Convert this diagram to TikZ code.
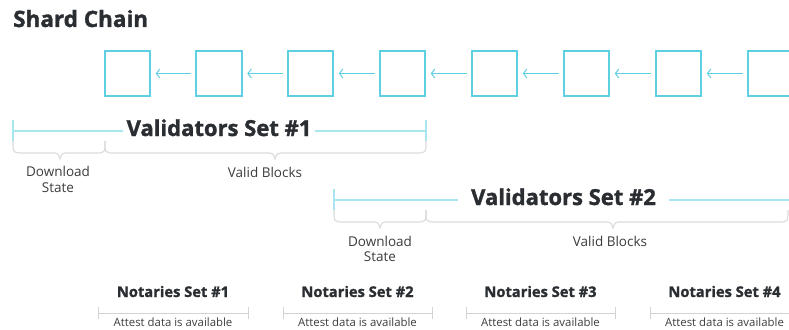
\documentclass[tikz,border=0pt]{standalone}
\usepackage[rgb]{xcolor}
\usepackage{fontspec}
\setmainfont{Open Sans}
\newfontfamily\heavyfont{Open Sans}[FakeBold=1.4]
\usepackage{tikz}
\usetikzlibrary{arrows.meta}

\definecolor{blockcyan}{HTML}{5FCFE4}
\definecolor{spancyan}{HTML}{A9E5EF}
\definecolor{bracegrey}{HTML}{DCDCDC}
\definecolor{rulegrey}{HTML}{D3D3D3}
\definecolor{ink}{HTML}{2A2D31}
\definecolor{body}{HTML}{3C3C3C}

\begin{document}
\begin{tikzpicture}[x=1pt,y=-1pt]
  \tikzset{block/.style={draw=blockcyan,line width=1.6pt,minimum size=45.5pt,inner sep=0pt,outer sep=0pt},
    link/.style={draw=blockcyan,line width=1pt,-{Straight Barb[length=3.5pt,width=9pt]},shorten >=5.5pt,shorten <=4.8pt},
    span/.style={draw=spancyan,line width=1.2pt},
    brace/.style={draw=bracegrey,line width=1.2pt},
    rule/.style={draw=rulegrey,line width=1pt},
    heading/.style={font=\heavyfont\fontsize{22.5}{26}\selectfont\bfseries,text=ink,inner sep=0pt},
    setlabel/.style={font=\heavyfont\fontsize{22}{26}\selectfont\bfseries,text=ink,inner ysep=0pt},
    notary/.style={font=\heavyfont\fontsize{14.7}{18}\selectfont\bfseries,text=ink,inner sep=0pt},
    note/.style={font=\fontsize{13.5}{15.5}\selectfont,text=body,align=center,inner sep=0pt},
    attest/.style={font=\fontsize{11.4}{14}\selectfont,text=body,inner sep=0pt}}%
\useasboundingbox (0,0) rectangle (789,329);
\clip (0,0) rectangle (789,329);
\node[heading,anchor=base west] (title) at (13,27) {Shard Chain};
% the chain, newest block on the right
\node[block] (b1) at (127.5,73.5) {};
\node[block] (b2) at (219,73.5) {};
\node[block] (b3) at (310.5,73.5) {};
\node[block] (b4) at (402.5,73.5) {};
\node[block] (b5) at (494.5,73.5) {};
\node[block] (b6) at (586.5,73.5) {};
\node[block] (b7) at (678.5,73.5) {};
\node[block] (b8) at (770.5,73.5) {};
\draw[link] (b2) -- (b1);
\draw[link] (b3) -- (b2);
\draw[link] (b4) -- (b3);
\draw[link] (b5) -- (b4);
\draw[link] (b6) -- (b5);
\draw[link] (b7) -- (b6);
\draw[link] (b8) -- (b7);
% validators set 1
\coordinate (v1l) at (13,131);
\coordinate (v1r) at (426,131);
\node[setlabel,inner xsep=3pt,anchor=base] (vs1) at (219,136) {Validators Set \#1};
\draw[span] (v1l) -- (v1l -| vs1.west);
\draw[span] (vs1.east |- v1r) -- (v1r);
\draw[span] (13,120) -- (13,141);
\draw[span] (426,120) -- (426,141);
\draw[brace] (13,141) .. controls (13,153) .. (23,153) -- (50,153) .. controls (58,153) .. (60,159) .. controls (62,153) .. (70,153) -- (95,153) .. controls (105,153) .. (105,141);
\draw[brace] (105,141) .. controls (105,153) .. (115,153) -- (265,153) .. controls (273,153) .. (275,159) .. controls (277,153) .. (285,153) -- (416,153) .. controls (426,153) .. (426,141);
\node[note,anchor=base] (ds1) at (58,192) {Download\\State};
\node[note,anchor=base] (vb1) at (265,177) {Valid Blocks};
% validators set 2
\coordinate (v2l) at (334,200);
\coordinate (v2r) at (789,200);
\node[setlabel,inner xsep=13pt,anchor=base] (vs2) at (563.5,205) {Validators Set \#2};
\draw[span] (v2l) -- (v2l -| vs2.west);
\draw[span] (vs2.east |- v2r) -- (v2r);
\draw[span] (334,189) -- (334,210);
\draw[brace] (334,210) .. controls (334,222) .. (344,222) -- (370,222) .. controls (378,222) .. (380,228) .. controls (382,222) .. (390,222) -- (416,222) .. controls (426,222) .. (426,210);
\draw[brace] (426,210) .. controls (426,222) .. (436,222) -- (603,222) .. controls (611,222) .. (613,228) .. controls (615,222) .. (623,222) -- (778,222) .. controls (788,222) .. (788,210);
\node[note,anchor=base] (ds2) at (380,261.5) {Download\\State};
\node[note,anchor=base] (vb2) at (610,246) {Valid Blocks};
% notaries
\node[notary,anchor=base] (n1) at (173,297) {Notaries Set \#1};
\node[notary,anchor=base] (n2) at (357.5,297) {Notaries Set \#2};
\node[notary,anchor=base] (n3) at (540.5,297) {Notaries Set \#3};
\node[notary,anchor=base] (n4) at (724.5,297) {Notaries Set \#4};
\draw[rule] (98,313) -- (248,313);
\draw[rule] (98,307) -- (98,319);
\draw[rule] (248,307) -- (248,319);
\draw[rule] (283,313) -- (432,313);
\draw[rule] (283,307) -- (283,319);
\draw[rule] (432,307) -- (432,319);
\draw[rule] (466,313) -- (615,313);
\draw[rule] (466,307) -- (466,319);
\draw[rule] (615,307) -- (615,319);
\draw[rule] (650,313) -- (799,313);
\draw[rule] (650,307) -- (650,319);
\node[attest,anchor=base] (a1) at (173,326) {Attest data is available};
\node[attest,anchor=base] (a2) at (357.5,326) {Attest data is available};
\node[attest,anchor=base] (a3) at (540.5,326) {Attest data is available};
\node[attest,anchor=base] (a4) at (724.5,326) {Attest data is available};
\end{tikzpicture}
\end{document}
